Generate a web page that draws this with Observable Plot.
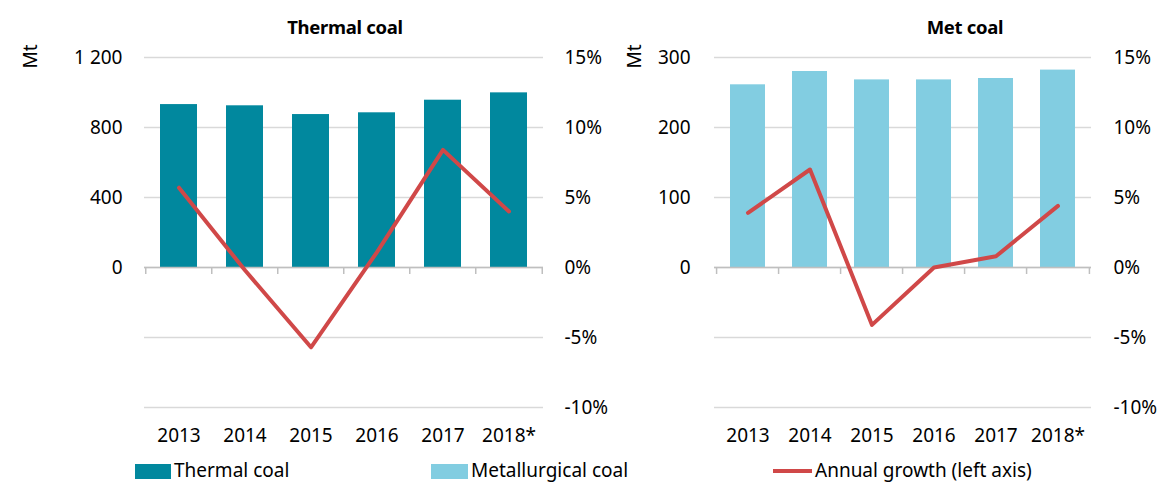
<!DOCTYPE html>
<html>
<head>
<meta charset="utf-8">
<script src="https://cdn.jsdelivr.net/npm/d3@7"></script>
<script src="https://cdn.jsdelivr.net/npm/@observablehq/plot@0.6"></script>
<style>
  html, body { margin: 0; padding: 0; background: #fff; }
  #root { position: relative; width: 1165px; height: 483px; overflow: hidden; font-family: "Noto Sans", sans-serif; color: #000; }
  .panel { position: absolute; top: 0; }
  .title { position: absolute; top: 15px; font-weight: bold; font-size: 18.5px; line-height: 24px; transform: translateX(-50%); white-space: nowrap; letter-spacing: -0.3px; }
  .leg { position: absolute; font-size: 19px; line-height: 22px; top: 459px; white-space: nowrap; }
  .sw { position: absolute; }
</style>
</head>
<body>
<div id="root"></div>
<script>
// ---- data ----
const years = ["2013", "2014", "2015", "2016", "2017", "2018*"];
const thermalMt = [931, 924, 874, 884, 956, 998];
const thermalGrowth = [5.7, -0.2, -5.7, 1.1, 8.4, 4.0];
const metMt = [261, 280, 268, 268, 270, 282];
const metGrowth = [3.9, 7.0, -4.1, 0.0, 0.8, 4.4];
const thermalTicks = [0, 400, 800, 1200];
const metTicks = [0, 100, 200, 300];
const pctTicks = [-10, -5, 0, 5, 10, 15];
const titles = ["Thermal coal", "Met coal"];
const legendLabels = ["Thermal coal", "Metallurgical coal", "Annual growth (left axis)"];

const colors = { thermal: "#01889e", met: "#82cde1", growth: "#d04848", grid: "#d9d9d9", axis: "#bfbfbf" };
const FONT = '"Noto Sans", sans-serif';

function panel({ mt, growth, mtTicks, fill, width, height, marginLeft, marginRight, marginTop, marginBottom, leftPad, rightPad, mtX }) {
  const k = mtTicks[mtTicks.length - 1] / pctTicks[pctTicks.length - 1]; // Mt per 1%
  const domain = [pctTicks[0] * k, pctTicks[pctTicks.length - 1] * k];
  const plotW = width - marginLeft - marginRight;
  const plotH = height - marginTop - marginBottom;
  const step = plotW / years.length;
  const tickLen = 7 * (domain[1] - domain[0]) / plotH;
  const data = years.map((y, i) => ({ year: y, value: mt[i], growth: growth[i] }));
  const fmt = v => d3.format(",")(v).replace(/,/g, " ");
  return Plot.plot({
    width, height, marginLeft, marginRight, marginTop, marginBottom,
    style: { fontFamily: FONT, fontSize: "19px", color: "#000", background: "transparent", overflow: "visible" },
    x: { domain: years, paddingInner: 0.44, paddingOuter: 0.22, label: null },
    y: { domain, label: null },
    marks: [
      Plot.ruleY(pctTicks.map(p => p * k), { stroke: colors.grid, strokeWidth: 1.3 }),
      Plot.barY(data, { x: "year", y: "value", fill }),
      Plot.ruleY([0], { stroke: colors.axis, strokeWidth: 1.5 }),
      Plot.ruleX(years, { x: d => d, y1: 0, y2: -tickLen, dx: -step / 2, stroke: colors.axis, strokeWidth: 1.5 }),
      Plot.ruleX(years.slice(-1), { x: d => d, y1: 0, y2: -tickLen, dx: step / 2, stroke: colors.axis, strokeWidth: 1.5 }),
      Plot.line(data, { x: "year", y: d => d.growth * k, stroke: colors.growth, strokeWidth: 4, strokeLinejoin: "round", strokeLinecap: "round" }),
      Plot.axisY(mtTicks, { anchor: "left", tickSize: 0, tickPadding: leftPad, tickFormat: fmt, label: null }),
      Plot.axisY(pctTicks.map(p => p * k), { anchor: "right", tickSize: 0, tickPadding: rightPad, tickFormat: v => Math.round(v / k) + "%", label: null }),
      Plot.axisX({ anchor: "bottom", tickSize: 0, tickPadding: 21, label: null }),
      Plot.text(["Mt"], { text: d => d, frameAnchor: "top-left", dx: mtX - marginLeft, dy: 11, rotate: -90, fontSize: 19 })
    ]
  });
}

const root = document.getElementById("root");

const p1 = panel({ mt: thermalMt, growth: thermalGrowth, mtTicks: thermalTicks, fill: colors.thermal,
  width: 600, height: 455, marginLeft: 144, marginRight: 57, marginTop: 57, marginBottom: 48,
  leftPad: 22, rightPad: 21, mtX: 23 });
p1.classList.add("panel"); p1.style.left = "0px";
root.appendChild(p1);

const p2 = panel({ mt: metMt, growth: metGrowth, mtTicks: metTicks, fill: colors.met,
  width: 565, height: 455, marginLeft: 114, marginRight: 74, marginTop: 57, marginBottom: 48,
  leftPad: 24, rightPad: 22, mtX: 27 });
p2.classList.add("panel"); p2.style.left = "600px";
root.appendChild(p2);

// titles
[[titles[0], 345], [titles[1], 965]].forEach(([t, cx]) => {
  const d = document.createElement("div");
  d.className = "title"; d.textContent = t; d.style.left = cx + "px";
  root.appendChild(d);
});

// legend
const legendItems = [
  { label: legendLabels[0], color: colors.thermal, type: "box", x: 135, w: 36 },
  { label: legendLabels[1], color: colors.met, type: "box", x: 431, w: 37 },
  { label: legendLabels[2], color: colors.growth, type: "line", x: 773, w: 39 }
];
legendItems.forEach(it => {
  const s = document.createElement("div");
  s.className = "sw";
  s.style.left = it.x + "px"; s.style.width = it.w + "px"; s.style.background = it.color;
  if (it.type === "box") { s.style.top = "464px"; s.style.height = "15px"; }
  else { s.style.top = "469px"; s.style.height = "4px"; }
  root.appendChild(s);
  const t = document.createElement("div");
  t.className = "leg"; t.textContent = it.label; t.style.left = (it.x + it.w + 3) + "px";
  root.appendChild(t);
});
</script>
</body>
</html>
